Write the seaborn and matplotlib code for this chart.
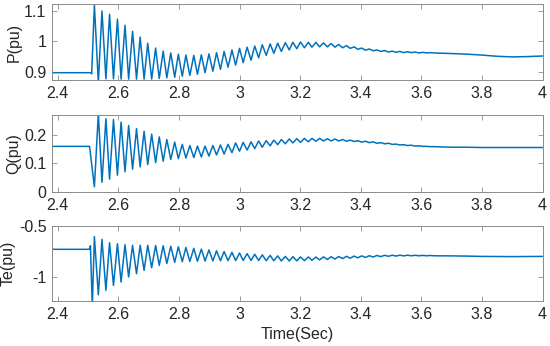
import matplotlib
matplotlib.use("Agg")
import matplotlib.pyplot as plt
import seaborn as sns
import pandas as pd

# ---------------- data ----------------
# times of successive oscillation extrema (peak/trough alternating)
ext_t = [2.521, 2.534, 2.546, 2.559, 2.571, 2.584, 2.597, 2.609, 2.622, 2.634,
         2.647, 2.660, 2.672, 2.685, 2.697, 2.710, 2.723, 2.735, 2.748, 2.760,
         2.773, 2.786, 2.798, 2.811, 2.823, 2.836, 2.849, 2.861, 2.874, 2.886,
         2.899, 2.912, 2.924, 2.937, 2.949, 2.962, 2.975, 2.987, 3.000, 3.012,
         3.025, 3.038, 3.050, 3.063, 3.075, 3.088, 3.101, 3.113, 3.126, 3.138,
         3.151, 3.164, 3.176, 3.189, 3.201, 3.214, 3.227, 3.239, 3.252, 3.264,
         3.277, 3.290, 3.302, 3.315, 3.327, 3.340, 3.353, 3.365, 3.378, 3.390,
         3.403, 3.416, 3.428, 3.441, 3.453, 3.466, 3.479, 3.491, 3.504, 3.516,
         3.529, 3.542, 3.554, 3.567, 3.579, 3.592, 3.605, 3.617, 3.630, 3.642]
tail_t = [3.70, 3.75, 3.80, 3.85, 3.90, 3.95, 4.00]

# P(pu)
p_pre_t = [2.381, 2.510, 2.512]
p_pre_v = [0.897, 0.897, 0.893]
p_ext = [1.119, 0.865, 1.100, 0.877, 1.089, 0.877, 1.073, 0.876, 1.053, 0.876,
         1.033, 0.876, 1.014, 0.876, 0.994, 0.876, 0.978, 0.878, 0.968, 0.880,
         0.962, 0.882, 0.958, 0.885, 0.955, 0.888, 0.954, 0.892, 0.956, 0.897,
         0.959, 0.902, 0.963, 0.908, 0.967, 0.915, 0.972, 0.922, 0.977, 0.930,
         0.981, 0.938, 0.985, 0.946, 0.989, 0.954, 0.992, 0.961, 0.994, 0.967,
         0.996, 0.972, 0.997, 0.976, 0.998, 0.979, 0.997, 0.981, 0.997, 0.982,
         0.995, 0.982, 0.993, 0.981, 0.990, 0.979, 0.986, 0.977, 0.982, 0.974,
         0.978, 0.971, 0.975, 0.969, 0.972, 0.967, 0.970, 0.965, 0.968, 0.964,
         0.967, 0.963, 0.966, 0.963, 0.965, 0.962, 0.964, 0.962, 0.963, 0.962]
p_tail = [0.960, 0.958, 0.955, 0.951, 0.949, 0.950, 0.952]

# Q(pu)
q_pre_t = [2.381, 2.505]
q_pre_v = [0.160, 0.160]
q_ext = [0.018, 0.275, 0.034, 0.257, 0.045, 0.254, 0.059, 0.245, 0.071, 0.233,
         0.080, 0.222, 0.088, 0.213, 0.096, 0.203, 0.103, 0.193, 0.108, 0.184,
         0.114, 0.175, 0.117, 0.167, 0.119, 0.163, 0.121, 0.161, 0.123, 0.161,
         0.126, 0.163, 0.130, 0.165, 0.133, 0.167, 0.138, 0.172, 0.143, 0.174,
         0.147, 0.176, 0.152, 0.179, 0.157, 0.180, 0.162, 0.182, 0.166, 0.184,
         0.169, 0.186, 0.172, 0.187, 0.174, 0.188, 0.176, 0.188, 0.178, 0.188,
         0.179, 0.187, 0.179, 0.186, 0.179, 0.184, 0.178, 0.182, 0.177, 0.180,
         0.175, 0.178, 0.173, 0.176, 0.171, 0.173, 0.169, 0.171, 0.167, 0.168,
         0.165, 0.166, 0.163, 0.164, 0.161, 0.162, 0.160, 0.160, 0.159, 0.159]
q_tail = [0.157, 0.157, 0.156, 0.156, 0.156, 0.156, 0.156]

# Te(pu)
te_pre_t = [2.381, 2.504, 2.508, 2.514]
te_pre_v = [-0.730, -0.730, -0.695, -1.300]
te_ext = [-0.605, -1.178, -0.632, -1.135, -0.665, -1.086, -0.675, -1.053, -0.685, -1.003,
          -0.690, -0.971, -0.690, -0.938, -0.690, -0.911, -0.692, -0.888, -0.695, -0.870,
          -0.700, -0.858, -0.705, -0.852, -0.712, -0.850, -0.720, -0.848, -0.728, -0.846,
          -0.736, -0.845, -0.745, -0.843, -0.752, -0.842, -0.760, -0.841, -0.767, -0.840,
          -0.773, -0.840, -0.779, -0.840, -0.785, -0.842, -0.790, -0.843, -0.795, -0.845,
          -0.800, -0.845, -0.803, -0.844, -0.805, -0.842, -0.806, -0.838, -0.806, -0.834,
          -0.805, -0.830, -0.803, -0.826, -0.801, -0.822, -0.799, -0.818, -0.797, -0.814,
          -0.795, -0.810, -0.793, -0.806, -0.791, -0.802, -0.789, -0.799, -0.788, -0.797,
          -0.788, -0.795, -0.788, -0.794, -0.789, -0.794, -0.790, -0.794, -0.791, -0.794]
te_tail = [-0.795, -0.797, -0.800, -0.801, -0.802, -0.801, -0.800]

x_ticks = [2.4, 2.6, 2.8, 3.0, 3.2, 3.4, 3.6, 3.8, 4.0]
x_ticklabels = ["2.4", "2.6", "2.8", "3", "3.2", "3.4", "3.6", "3.8", "4"]
panels = [
    ("P(pu)", p_pre_t, p_pre_v, p_ext, p_tail, (0.873, 1.123), [0.9, 1.0, 1.1], ["0.9", "1", "1.1"]),
    ("Q(pu)", q_pre_t, q_pre_v, q_ext, q_tail, (0.0, 0.27), [0.0, 0.1, 0.2], ["0", "0.1", "0.2"]),
    ("Te(pu)", te_pre_t, te_pre_v, te_ext, te_tail, (-1.24, -0.5), [-1.0, -0.5], ["-1", "-0.5"]),
]

# ---------------- style ----------------
sns.set_style("ticks")
plt.rcParams["font.family"] = ["Liberation Sans", "DejaVu Sans"]
plt.rcParams["axes.unicode_minus"] = False

line_color = "#0072BD"
edge_color = "#8a8a8a"
text_color = "#262626"

fig = plt.figure(figsize=(5.5, 3.46), dpi=100)
rects = [
    [0.0945, 0.7688, 0.892, 0.2196],
    [0.0945, 0.4451, 0.892, 0.2225],
    [0.0945, 0.1301, 0.892, 0.2167],
]

for rect, (ylab, pre_t, pre_v, ext_v, tail_v, ylim, yt, ytl) in zip(rects, panels):
    ax = fig.add_axes(rect)
    df = pd.DataFrame({
        "t": pre_t + ext_t + tail_t,
        "v": pre_v + ext_v + tail_v,
    })
    sns.lineplot(data=df, x="t", y="v", ax=ax, color=line_color, linewidth=1.1,
                 estimator=None, sort=False)
    ax.set_xlim(2.381, 4.0)
    ax.set_ylim(*ylim)
    ax.set_xticks(x_ticks)
    ax.set_xticklabels(x_ticklabels)
    ax.set_yticks(yt)
    ax.set_yticklabels(ytl)
    ax.set_ylabel(ylab, fontsize=11.5, color=text_color, labelpad=2)
    ax.set_xlabel("")
    ax.tick_params(direction="in", length=3.5, width=0.6, colors=edge_color,
                   labelcolor=text_color, labelsize=11.5, top=True, right=True, pad=4)
    for sp in ax.spines.values():
        sp.set_visible(True)
        sp.set_color(edge_color)
        sp.set_linewidth(0.7)

ax.set_xlabel("Time(Sec)", fontsize=11.5, color=text_color, labelpad=4)

fig.savefig("out.png", dpi=100)
